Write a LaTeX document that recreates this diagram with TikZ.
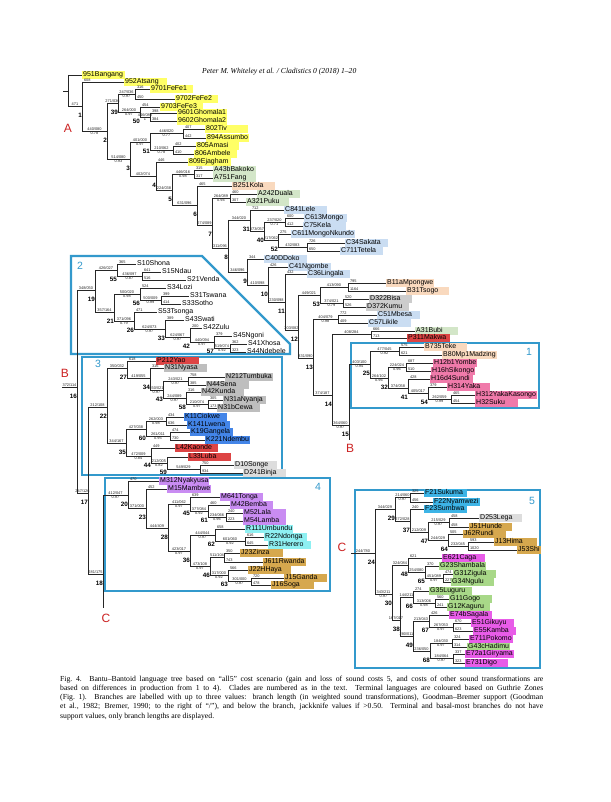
\documentclass[tikz,border=0pt]{standalone}
\usepackage{fontspec}
\setmainfont{Liberation Serif}
\newfontfamily\arial{Liberation Sans}
\usetikzlibrary{calc}
\definecolor{cyel}{HTML}{FFFF66}
\definecolor{cgra}{HTML}{D3E6C8}
\definecolor{cpea}{HTML}{F9D9BE}
\definecolor{clbl}{HTML}{CADDF2}
\definecolor{cgry}{HTML}{CCCCCC}
\definecolor{cDlt}{HTML}{DDDDDD}
\definecolor{cNgr}{HTML}{BEBEBE}
\definecolor{cred}{HTML}{DD4444}
\definecolor{cpin}{HTML}{F07AAA}
\definecolor{cKbl}{HTML}{4385E8}
\definecolor{cMpu}{HTML}{C98CF2}
\definecolor{cRcy}{HTML}{8EF0F2}
\definecolor{cJgo}{HTML}{D6A84E}
\definecolor{cFbl}{HTML}{3DB4E6}
\definecolor{cGgr}{HTML}{A8D888}
\definecolor{cEma}{HTML}{E85CE8}
\definecolor{cbox}{HTML}{3399CC}
\definecolor{cltr}{HTML}{CC2222}
\def\lbmin{41pt}
\newcommand\lbx[1]{\sbox0{#1}\ifdim\wd0<\lbmin\makebox[\lbmin][l]{#1}\else\usebox0\fi}
\tikzset{
  br/.style={line width=0.9pt, draw=black!85},
  lf/.style={anchor=west, inner xsep=1pt, inner ysep=0.4pt, text height=5.3pt, text depth=1.6pt, font=\arial\fontsize{7}{8}\selectfont},
  bl/.style={inner sep=0.3pt, font=\arial\fontsize{3.9}{4}\selectfont, text=black!85},
  num/.style={anchor=north east, inner sep=0pt, font=\arial\bfseries\fontsize{6.3}{7}\selectfont},
  boxl/.style={line width=2.4pt, draw=cbox},
  boxn/.style={text=cbox, font=\arial\fontsize{10.5}{11}\selectfont},
  redl/.style={text=cltr, font=\arial\fontsize{12}{12}\selectfont},
}
\newcommand\LF[7]{%
  \node[lf,fill=#4] (#1) at (#2-1,#3) {\lbx{#5}};
  \draw[br] (#6 |- #1.west) -- (#1.west);
  \node[bl,anchor=south west] at ($(#6 |- #1.west)+(1.5,0)$) {#7};
}
\newcommand\IN[5]{%
  \draw[br] (#2 |- #1) -- (#1);
  \path (#2 |- #1) -- node[bl,above]{#3} node[bl,below]{#4} (#1);
  \node[num] at ($(#1)+(0,6.6)$) {#5};
}
\newcommand\VT[3]{\draw[br] (#1 |- #2) -- (#1 |- #3);}
\begin{document}
\begin{tikzpicture}[x=1pt,y=-1pt]
\fill[white] (0,0) rectangle (610,802);
\useasboundingbox (0,0) rectangle (610,802);
% boxes
\draw[boxl] (71,256) -- (202,256) -- (290,344) -- (290,354) -- (71,354) -- cycle;
\draw[boxl] (82,357) rectangle (282,475);
\draw[boxl] (105,478) rectangle (330,591);
\draw[boxl] (351,343) rectangle (539,408);
\draw[boxl] (355,490) rectangle (540,668);
\node[boxn] at (80,266) {2};
\node[boxn] at (98,364) {3};
\node[boxn] at (318,487) {4};
\node[boxn] at (529,352) {1};
\node[boxn] at (532,501) {5};
% header
\node[anchor=west, inner sep=0, font=\itshape\fontsize{7.6}{9}\selectfont] at (202,72) {Peter M. Whiteley et al. / Cladistics 0 (2018) 1–20};
% internal coordinates
\coordinate (rst) at (63,91);
\coordinate (root) at (68,91);
\coordinate (n1) at (82,106.5);
\coordinate (n2) at (107,131);
\coordinate (n39) at (118,103);
\coordinate (n39a) at (135,94);
\coordinate (n50) at (140,112);
\coordinate (ngh) at (150,117);
\coordinate (n3) at (130,159);
\coordinate (n51) at (150,142);
\coordinate (ntiv) at (183,133.5);
\coordinate (nama) at (173,150);
\coordinate (n4) at (156,176);
\coordinate (n5) at (172,190);
\coordinate (na43) at (194,174);
\coordinate (n6) at (197,205);
\coordinate (n7) at (212,225);
\coordinate (ndua) at (230,198);
\coordinate (n8) at (228,248);
\coordinate (n31) at (250,220);
\coordinate (n40) at (264,231.5);
\coordinate (nc613) at (285,222);
\coordinate (n52) at (278,240.5);
\coordinate (nc34) at (307,247);
\coordinate (n9) at (247,272);
\coordinate (n10) at (268,285);
\coordinate (n11) at (285,302);
\coordinate (n12) at (298,330);
\coordinate (n53) at (320,295);
\coordinate (nb11) at (348,287);
\coordinate (nd322) at (343,303);
\coordinate (n13) at (313,358);
\coordinate (nc51) at (338,319);
\coordinate (n14) at (332,395);
\coordinate (nbubi) at (371,334.5);
\coordinate (n15) at (349,425);
\coordinate (bend) at (349,440);
\coordinate (n25) at (370,364.5);
\coordinate (nteke) at (399,351);
\coordinate (n32) at (388,378);
\coordinate (nyom) at (406,367);
\coordinate (n41) at (408,388);
\coordinate (n54) at (428,393);
\coordinate (nyk) at (451,399);
\coordinate (bst) at (62,387);
\coordinate (n16) at (77,387);
\coordinate (n19) at (95,290);
\coordinate (n55) at (117,270);
\coordinate (nndau) at (142,276);
\coordinate (n21) at (114,312);
\coordinate (n56) at (140,294);
\coordinate (ntsw) at (161,300);
\coordinate (n26) at (134,321);
\coordinate (n33) at (165,329);
\coordinate (n42) at (190,337);
\coordinate (n57) at (214,342);
\coordinate (nxho) at (230,348);
\coordinate (n17) at (88,493);
\coordinate (n22) at (107,407);
\coordinate (n27) at (127,368);
\coordinate (n34) at (150,378);
\coordinate (n43) at (163,390);
\coordinate (ntum) at (188,381);
\coordinate (n58) at (186,398);
\coordinate (nnya) at (208,404);
\coordinate (n35) at (126,443);
\coordinate (n60) at (146,429);
\coordinate (ncio) at (166,421);
\coordinate (nnde) at (170,436);
\coordinate (n44) at (151,456);
\coordinate (n59) at (167,463);
\coordinate (nson) at (200,469);
\coordinate (n18) at (103,574);
\coordinate (cend) at (103,608);
\coordinate (n20) at (128,495);
\coordinate (n23) at (146,508.5);
\coordinate (n28) at (168,528);
\coordinate (n45) at (190,504);
\coordinate (n61) at (208,511);
\coordinate (nlal) at (226,517);
\coordinate (n36) at (190,551);
\coordinate (n62) at (215,535);
\coordinate (nndo) at (245,541);
\coordinate (n46) at (210,566);
\coordinate (nzin) at (224,557.5);
\coordinate (n63) at (228,575.5);
\coordinate (ngan) at (251,581.5);
\coordinate (cst) at (351,553);
\coordinate (n24) at (375,553);
\coordinate (n29) at (395,509);
\coordinate (nsuk) at (410,497.5);
\coordinate (n37) at (410,521);
\coordinate (n47) at (428,532);
\coordinate (nleg) at (449,522.5);
\coordinate (n64) at (448,540);
\coordinate (nhim) at (468,546);
\coordinate (n30) at (392,594);
\coordinate (n48) at (408,565);
\coordinate (n65) at (425,572);
\coordinate (nzig) at (443,578);
\coordinate (n38) at (400,620);
\coordinate (n66) at (413,597);
\coordinate (ngog) at (435,603);
\coordinate (n49) at (413,636);
\coordinate (n67) at (429,621);
\coordinate (ngik) at (453,627);
\coordinate (n68) at (430,651);
\coordinate (npok) at (452,643);
\coordinate (ngir) at (453,658.5);
% leaves
\LF{bang}{83}{75}{cyel}{951Bangang}{root}{}
\LF{atsa}{125}{82}{cyel}{952Atsang}{n1}{608}
\LF{fe1}{151}{89}{cyel}{9701FeFe1}{n39a}{316}
\LF{fe2}{176}{99}{cyel}{9702FeFe2}{n39a}{450}
\LF{fe3}{161}{107}{cyel}{9703FeFe3}{n50}{454}
\LF{gh1}{178}{113}{cyel}{9601Ghomala1}{ngh}{398}
\LF{gh2}{178}{121}{cyel}{9602Ghomala2}{ngh}{384}
\LF{tiv}{206}{129}{cyel}{802Tiv}{ntiv}{407}
\LF{ass}{207}{138}{cyel}{894Assumbo}{ntiv}{442}
\LF{ama}{197}{146}{cyel}{805Amasi}{nama}{402}
\LF{amb}{195}{154}{cyel}{806Ambele}{nama}{410}
\LF{eja}{189}{162}{cyel}{809Ejagham}{n4}{446}
\LF{bak}{214}{170}{cgra}{A43bBakoko}{na43}{315}
\LF{fan}{214}{178}{cgra}{A751Fang}{na43}{317}
\LF{kol}{233}{186}{cpea}{B251Kola}{n6}{465}
\LF{dua}{258}{194}{cgra}{A242Duala}{ndua}{460}
\LF{puk}{247}{202}{cgra}{A321Puku}{ndua}{307}
\LF{lel}{285}{210}{clbl}{C841Lele}{n31}{712}
\LF{mon}{305}{218}{clbl}{C613Mongo}{nc613}{600}
\LF{kel}{304}{226}{clbl}{C75Kela}{nc613}{412}
\LF{nku}{292}{234}{clbl}{C611MongoNkundo}{n52}{275}
\LF{sak}{346}{243}{clbl}{C34Sakata}{nc34}{726}
\LF{tet}{341}{251}{clbl}{C711Tetela}{nc34}{650}
\LF{dok}{265}{259}{clbl}{C40DDoko}{n9}{344}
\LF{ngo}{289}{267}{clbl}{C41Ngombe}{n10}{426}
\LF{lin}{308}{274}{clbl}{C36Lingala}{n11}{432}
\LF{mpo}{387}{283}{cpea}{B11aMpongwe}{nb11}{795}
\LF{tsg}{407}{291}{cpea}{B31Tsogo}{nb11}{1164}
\LF{bis}{370}{299}{cgry}{D322Bisa}{nd322}{520}
\LF{kum}{367}{307}{cgry}{D372Kumu}{nd322}{526}
\LF{mbe}{378}{315}{clbl}{C51Mbesa}{nc51}{772}
\LF{lik}{369}{323}{clbl}{C57Likile}{nc51}{409}
\LF{bub}{416}{331}{cgra}{A31Bubi}{nbubi}{666}
\LF{mak}{408}{338}{cred}{P311Makwa}{nbubi}{713}
\LF{tek}{425}{347}{cpea}{B735Teke}{nteke}{575}
\LF{mad}{443}{355}{cpea}{B80Mp1Madzing}{nteke}{621}
\LF{yom}{434}{363}{cpin}{H12b1Yombe}{nyom}{687}
\LF{sik}{432}{371}{cpin}{H16hSikongo}{nyom}{510}
\LF{sun}{431}{379}{cpin}{H16d4Sundi}{n41}{428}
\LF{yak}{448}{387}{cpin}{H314Yaka}{n54}{379}
\LF{yka}{476}{395}{cpin}{H312YakaKasongo}{nyk}{465}
\LF{suk}{476}{403}{cpin}{H32Suku}{nyk}{454}
\LF{sho}{137}{264}{none}{S10Shona}{n55}{365}
\LF{nda}{162}{272}{none}{S15Ndau}{nndau}{641}
\LF{ven}{187}{280}{none}{S21Venda}{nndau}{516}
\LF{loz}{167}{288}{none}{S34Lozi}{n56}{524}
\LF{tsw}{190}{296}{none}{S31Tswana}{ntsw}{399}
\LF{sot}{182}{304}{none}{S33Sotho}{ntsw}{414}
\LF{tsn}{158}{312}{none}{S53Tsonga}{n26}{471}
\LF{swa}{185}{320}{none}{S43Swati}{n33}{389}
\LF{zul}{203}{328}{none}{S42Zulu}{n42}{200}
\LF{ngn}{233}{336}{none}{S45Ngoni}{n57}{379}
\LF{xho}{248}{344}{none}{S41Xhosa}{nxho}{362}
\LF{ndb}{247}{352}{none}{S44Ndebele}{nxho}{323}
\LF{yao}{157}{361}{cred}{P212Yao}{n27}{618}
\LF{nys}{165}{368}{cNgr}{N31Nyasa}{n34}{316}
\LF{tum}{226}{377}{cNgr}{N212Tumbuka}{ntum}{758}
\LF{sen}{207}{385}{cNgr}{N44Sena}{ntum}{385}
\LF{kun}{202}{392}{cNgr}{N42Kunda}{n58}{316}
\LF{nyj}{224}{400}{cNgr}{N31aNyanja}{nnya}{305}
\LF{cew}{218}{408}{cNgr}{N31bCewa}{nnya}{173}
\LF{cio}{185}{417}{cKbl}{K11Ciokwe}{ncio}{434}
\LF{lwe}{188}{425}{cKbl}{K141Lwena}{ncio}{636}
\LF{gng}{191}{432}{cKbl}{K19Gangela}{nnde}{474}
\LF{ndm}{206}{440}{cKbl}{K221Ndembu}{nnde}{730}
\LF{kao}{176}{448}{cred}{L42Kaonde}{n44}{449}
\LF{lub}{189}{457}{cred}{L33Luba}{n59}{}
\LF{son}{235}{465}{cDlt}{D10Songe}{nson}{750}
\LF{bin}{244}{473}{cDlt}{D241Binja}{nson}{934}
\LF{nyk2}{160}{481}{cMpu}{M312Nyakyusa}{n20}{470}
\LF{mam}{168}{489}{cMpu}{M15Mambwe}{n23}{452}
\LF{ton}{221}{497}{cMpu}{M641Tonga}{n45}{639}
\LF{bem}{231}{505}{cMpu}{M42Bemba}{n61}{460}
\LF{lal}{244}{513}{cMpu}{M52Lala}{nlal}{240}
\LF{lam}{244}{521}{cMpu}{M54Lamba}{nlal}{223}
\LF{umb}{246}{529}{cRcy}{R111Umbundu}{n62}{658}
\LF{ndo}{265}{537}{cRcy}{R22Ndonga}{nndo}{616}
\LF{her}{269}{545}{cRcy}{R31Herero}{nndo}{645}
\LF{zin}{241}{553}{cJgo}{J23Zinza}{nzin}{350}
\LF{rwa}{264}{562}{cJgo}{J611Rwanda}{nzin}{743}
\LF{hay}{249}{570}{cJgo}{J22HHaya}{n63}{566}
\LF{gnd}{285}{578}{cJgo}{J15Ganda}{ngan}{720}
\LF{sog}{272}{585}{cJgo}{J16Soga}{ngan}{478}
\LF{fsu}{425}{493}{cFbl}{F21Sukuma}{nsuk}{325}
\LF{nym}{434}{502}{cFbl}{F22Nyamwezi}{nsuk}{456}
\LF{smb}{425}{509}{cFbl}{F23Sumbwa}{n37}{240}
\LF{leg}{480}{518}{cDlt}{D253Lega}{nleg}{458}
\LF{hun}{470}{527}{cJgo}{J51Hunde}{nleg}{458}
\LF{run}{464}{534}{cJgo}{J62Rundi}{n64}{505}
\LF{him}{495}{542}{cJgo}{J13Hima}{nhim}{593}
\begin{scope}\def\lbmin{0pt}
\LF{shi}{518}{550}{cJgo}{J53Shi}{nhim}{1020}
\end{scope}
\LF{cag}{443}{558}{cEma}{E621Caga}{n48}{621}
\LF{sha}{440}{566}{cGgr}{G23Shambala}{n65}{370}
\LF{zig}{454}{574}{cGgr}{G31Zigula}{nzig}{474}
\LF{ngu}{452}{582}{cGgr}{G34Ngulu}{nzig}{227}
\LF{lug}{430}{591}{cGgr}{G35Luguru}{n66}{274}
\LF{gog}{450}{599}{cGgr}{G11Gogo}{ngog}{560}
\LF{kag}{448}{607}{cGgr}{G12Kaguru}{ngog}{241}
\LF{sag}{450}{615}{cEma}{E74bSagala}{n67}{426}
\LF{gik}{472}{623}{cEma}{E51Gikuyu}{ngik}{670}
\LF{kam}{474}{631}{cEma}{E55Kamba}{ngik}{623}
\LF{pok}{470}{639}{cEma}{E711Pokomo}{npok}{324}
\LF{had}{468}{647}{cGgr}{G43cHadimu}{npok}{314}
\LF{gir}{466}{654}{cEma}{E72a1Giryama}{ngir}{337}
\LF{dig}{466}{663}{cEma}{E731Digo}{ngir}{323}
% internal branches
\draw[br] (rst) -- (root);
\IN{n1}{root}{471}{}{1}
\IN{n2}{n1}{440/080}{0.78}{2}
\IN{n39}{n2}{271/036}{}{39}
\IN{n39a}{n39}{247/036}{0.97}{}
\IN{n50}{n39}{264/000}{0.97}{50}
\IN{ngh}{n50}{446/080}{1}{}
\IN{n3}{n2}{514/080}{0.93}{3}
\IN{n51}{n3}{401/000}{0.97}{51}
\IN{ntiv}{n51}{446/020}{0.77}{}
\IN{nama}{n51}{210/062}{0.78}{}
\IN{n4}{n3}{402/074}{}{4}
\IN{n5}{n4}{224/038}{}{5}
\IN{na43}{n5}{446/016}{0.98}{}
\IN{n6}{n5}{631/096}{}{6}
\IN{n7}{n6}{274/089}{}{7}
\IN{ndua}{n7}{264/089}{0.94}{}
\IN{n8}{n7}{311/096}{}{8}
\IN{n31}{n8}{344/020}{}{31}
\IN{n40}{n31}{373/057}{}{40}
\IN{nc613}{n40}{237/020}{0.71}{}
\IN{n52}{n40}{217/062}{}{52}
\IN{nc34}{n52}{432/083}{}{}
\IN{n9}{n8}{346/096}{}{9}
\IN{n10}{n9}{410/098}{}{10}
\IN{n11}{n10}{230/098}{}{11}
\IN{n12}{n11}{203/082}{}{12}
\IN{n53}{n12}{449/021}{}{53}
\IN{nb11}{n53}{413/090}{}{}
\IN{nd322}{n53}{374/021}{0.79}{}
\IN{n13}{n12}{331/090}{}{13}
\IN{nc51}{n13}{404/079}{0.98}{}
\IN{n14}{n13}{374/187}{}{14}
\IN{nbubi}{n14}{408/284}{}{}
\IN{n15}{n14}{364/060}{0.97}{15}
\IN{n25}{n15}{403/100}{0.94}{25}
\IN{nteke}{n25}{477/045}{0.92}{}
\IN{n32}{n25}{264/102}{0.96}{32}
\IN{nyom}{n32}{224/024}{0.96}{}
\IN{n41}{n32}{374/058}{}{41}
\IN{n54}{n41}{405/017}{}{54}
\IN{nyk}{n54}{262/059}{0.99}{}
\draw[br] (bst) -- node[bl,above]{372/114} (n16);
\node[num] at ($(n16)+(0,6.6)$) {16};
\IN{n19}{n16}{348/050}{}{19}
\IN{n55}{n19}{426/027}{}{55}
\IN{nndau}{n55}{436/097}{0.87}{}
\IN{n21}{n19}{357/164}{}{21}
\IN{n56}{n21}{500/020}{0.98}{56}
\IN{ntsw}{n56}{500/009}{0.99}{}
\IN{n26}{n21}{371/096}{0.79}{26}
\IN{n33}{n26}{624/073}{0.97}{33}
\IN{n42}{n33}{624/067}{0.97}{42}
\IN{n57}{n42}{440/094}{0.97}{57}
\IN{nxho}{n57}{519/074}{0.92}{}
\IN{n17}{n16}{247/126}{}{17}
\IN{n22}{n17}{212/108}{}{22}
\IN{n27}{n22}{350/032}{}{27}
\IN{n34}{n27}{419/055}{}{34}
\IN{n43}{n34}{350/021}{0.97}{43}
\IN{ntum}{n43}{243/021}{0.97}{}
\IN{n58}{n43}{244/089}{0.97}{58}
\IN{nnya}{n58}{210/074}{0.97}{}
\IN{n35}{n22}{344/167}{}{35}
\IN{n60}{n35}{427/038}{}{60}
\IN{ncio}{n60}{262/003}{0.98}{}
\IN{nnde}{n60}{261/011}{0.95}{}
\IN{n44}{n35}{472/009}{0.84}{44}
\IN{n59}{n44}{212/005}{0.82}{59}
\IN{nson}{n59}{549/029}{}{}
\IN{n18}{n17}{281/175}{}{18}
\IN{n20}{n18}{412/047}{0.97}{20}
\IN{n23}{n20}{371/000}{}{23}
\IN{n28}{n23}{444/409}{}{28}
\IN{n45}{n28}{411/062}{0.97}{45}
\IN{n61}{n45}{377/084}{0.92}{61}
\IN{nlal}{n61}{234/066}{0.96}{}
\IN{n36}{n28}{423/017}{0.97}{36}
\IN{n62}{n36}{444/044}{0.97}{62}
\IN{nndo}{n62}{601/060}{0.92}{}
\IN{n46}{n36}{473/108}{0.97}{46}
\IN{nzin}{n46}{511/104}{}{}
\IN{n63}{n46}{317/000}{0.92}{63}
\IN{ngan}{n63}{301/000}{0.97}{}
\draw[br] (cst) -- node[bl,above]{244/780} (n24);
\node[num] at ($(n24)+(0,6.6)$) {24};
\IN{n29}{n24}{344/029}{}{29}
\IN{nsuk}{n29}{214/060}{0.97}{}
\IN{n37}{n29}{272/028}{}{37}
\IN{n47}{n37}{212/009}{}{47}
\IN{nleg}{n47}{215/029}{0.97}{}
\IN{n64}{n47}{244/029}{}{64}
\IN{nhim}{n64}{232/045}{}{}
\IN{n30}{n24}{343/211}{0.97}{30}
\IN{n48}{n30}{324/084}{}{48}
\IN{n65}{n48}{254/080}{}{65}
\IN{nzig}{n65}{451/089}{0.97}{}
\IN{n38}{n30}{167/017}{}{38}
\IN{n66}{n38}{144/211}{}{66}
\IN{ngog}{n66}{313/006}{0.98}{}
\IN{n49}{n38}{280/011}{}{49}
\IN{n67}{n49}{213/043}{}{67}
\IN{ngik}{n67}{267/053}{0.97}{}
\IN{n68}{n49}{236/050}{}{68}
\IN{npok}{n68}{184/030}{0.97}{}
\IN{ngir}{n68}{184/064}{0.97}{}
% verticals
\VT{root}{bang}{n1}
\VT{n1}{atsa}{n2}
\VT{n2}{n39}{n3}
\VT{n39}{n39a}{n50}
\VT{n39a}{fe1}{fe2}
\VT{n50}{fe3}{ngh}
\VT{ngh}{gh1}{gh2}
\VT{n3}{n51}{n4}
\VT{n51}{ntiv}{nama}
\VT{ntiv}{tiv}{ass}
\VT{nama}{ama}{amb}
\VT{n4}{eja}{n5}
\VT{n5}{na43}{n6}
\VT{na43}{bak}{fan}
\VT{n6}{kol}{n7}
\VT{n7}{ndua}{n8}
\VT{ndua}{dua}{puk}
\VT{n8}{n31}{n9}
\VT{n31}{lel}{n40}
\VT{n40}{nc613}{n52}
\VT{nc613}{mon}{kel}
\VT{n52}{nku}{nc34}
\VT{nc34}{sak}{tet}
\VT{n9}{dok}{n10}
\VT{n10}{ngo}{n11}
\VT{n11}{lin}{n12}
\VT{n12}{n53}{n13}
\VT{n53}{nb11}{nd322}
\VT{nb11}{mpo}{tsg}
\VT{nd322}{bis}{kum}
\VT{n13}{nc51}{n14}
\VT{nc51}{mbe}{lik}
\VT{n14}{nbubi}{n15}
\VT{nbubi}{bub}{mak}
\VT{n15}{n25}{bend}
\VT{n25}{nteke}{n32}
\VT{nteke}{tek}{mad}
\VT{n32}{nyom}{n41}
\VT{nyom}{yom}{sik}
\VT{n41}{sun}{n54}
\VT{n54}{yak}{nyk}
\VT{nyk}{yka}{suk}
\VT{n16}{n19}{n17}
\VT{n19}{n55}{n21}
\VT{n55}{sho}{nndau}
\VT{nndau}{nda}{ven}
\VT{n21}{n56}{n26}
\VT{n56}{loz}{ntsw}
\VT{ntsw}{tsw}{sot}
\VT{n26}{tsn}{n33}
\VT{n33}{swa}{n42}
\VT{n42}{zul}{n57}
\VT{n57}{ngn}{nxho}
\VT{nxho}{xho}{ndb}
\VT{n17}{n22}{n18}
\VT{n22}{n27}{n35}
\VT{n27}{yao}{n34}
\VT{n34}{nys}{n43}
\VT{n43}{ntum}{n58}
\VT{ntum}{tum}{sen}
\VT{n58}{kun}{nnya}
\VT{nnya}{nyj}{cew}
\VT{n35}{n60}{n44}
\VT{n60}{ncio}{nnde}
\VT{ncio}{cio}{lwe}
\VT{nnde}{gng}{ndm}
\VT{n44}{kao}{n59}
\VT{n59}{lub}{nson}
\VT{nson}{son}{bin}
\VT{n18}{n20}{cend}
\VT{n20}{nyk2}{n23}
\VT{n23}{mam}{n28}
\VT{n28}{n45}{n36}
\VT{n45}{ton}{n61}
\VT{n61}{bem}{nlal}
\VT{nlal}{lal}{lam}
\VT{n36}{n62}{n46}
\VT{n62}{umb}{nndo}
\VT{nndo}{ndo}{her}
\VT{n46}{nzin}{n63}
\VT{nzin}{zin}{rwa}
\VT{n63}{hay}{ngan}
\VT{ngan}{gnd}{sog}
\VT{n24}{n29}{n30}
\VT{n29}{nsuk}{n37}
\VT{nsuk}{fsu}{nym}
\VT{n37}{smb}{n47}
\VT{n47}{nleg}{n64}
\VT{nleg}{leg}{hun}
\VT{n64}{run}{nhim}
\VT{nhim}{him}{shi}
\VT{n30}{n48}{n38}
\VT{n48}{cag}{n65}
\VT{n65}{sha}{nzig}
\VT{nzig}{zig}{ngu}
\VT{n38}{n66}{n49}
\VT{n66}{lug}{ngog}
\VT{ngog}{gog}{kag}
\VT{n49}{n67}{n68}
\VT{n67}{sag}{ngik}
\VT{ngik}{gik}{kam}
\VT{n68}{npok}{ngir}
\VT{npok}{pok}{had}
\VT{ngir}{gir}{dig}
% red letters
\node[redl] (la) at (68,128) {A};
\node[redl] (lb1) at (65,373) {B};
\node[redl] (lb2) at (350,448) {B};
\node[redl] (lc1) at (106,618) {C};
\node[redl] (lc2) at (342,547) {C};
% caption
\node[anchor=north west, inner sep=0, text width=483pt, align=justify, font=\fontsize{7.7}{9.1}\selectfont] (cap) at (60,676) {Fig.~4. Bantu–Bantoid language tree based on “all5” cost scenario (gain and loss of sound costs 5, and costs of other sound transformations are\linebreak based on differences in production from 1 to 4). Clades are numbered as in the text. Terminal languages are coloured based on Guthrie Zones\linebreak (Fig.~1). Branches are labelled with up to three values: branch length (in weighted sound transformations), Goodman–Bremer support (Goodman\linebreak et~al., 1982; Bremer, 1990; to the right of “/”), and below the branch, jackknife values if >0.50. Terminal and basal-most branches do not have\linebreak support values, only branch lengths are displayed.};
\end{tikzpicture}
\end{document}
